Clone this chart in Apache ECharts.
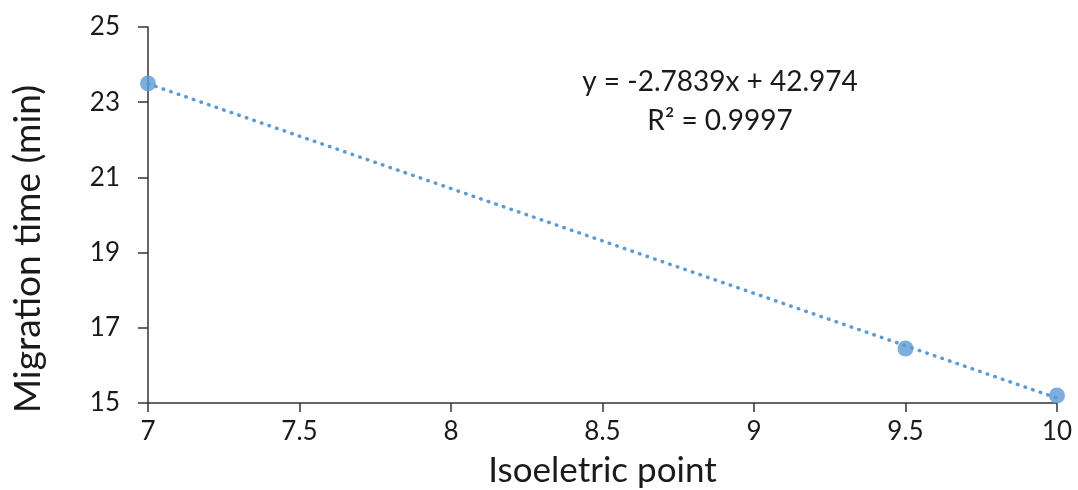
<!DOCTYPE html>
<html>
<head>
<meta charset="utf-8">
<script src="https://cdn.jsdelivr.net/npm/echarts@6/dist/echarts.min.js"></script>
<style>html,body{margin:0;padding:0;background:#fff}#c{width:1078px;height:490px}</style>
</head>
<body>
<div id="c"></div>
<script>
const isoPoints = [7, 9.5, 10];
const migrationTimes = [23.5, 16.45, 15.2];
const trendX = [7, 10];
const trendY = [23.49, 15.13];
const yTicks = [15, 17, 19, 21, 23, 25];
const equationText = 'y = -2.7839x + 42.974';
const r2Text = 'R² = 0.9997';
const xTitle = 'Isoeletric point';
const yTitle = 'Migration time (min)';

const FONT = 'Lato, "Open Sans", sans-serif';
const chart = echarts.init(document.getElementById('c'));
chart.setOption({
  animation: false,
  grid: {left: 148, right: 21, top: 27, bottom: 87, containLabel: false, outerBoundsMode: 'none'},
  xAxis: {
    type: 'value', min: 7, max: 10, interval: 0.5,
    name: xTitle, nameLocation: 'middle', nameGap: 50,
    nameTextStyle: {fontSize: 35, color: '#1a1a1a', fontFamily: FONT},
    axisLine: {show: true, lineStyle: {color: '#333', width: 1.5}},
    axisTick: {show: true, length: 9, lineStyle: {color: '#333', width: 1.5}},
    axisLabel: {fontSize: 26, color: '#1a1a1a', fontFamily: FONT, margin: 16},
    splitLine: {show: false}
  },
  yAxis: {
    type: 'value', min: 15, max: 25,
    axisLine: {show: true, lineStyle: {color: '#333', width: 1.5}},
    axisTick: {show: true, length: 10, customValues: yTicks, lineStyle: {color: '#333', width: 1.5}},
    axisLabel: {fontSize: 26, color: '#1a1a1a', fontFamily: FONT, margin: 28, customValues: yTicks},
    splitLine: {show: false}
  },
  series: [
    {
      type: 'line', data: trendX.map((x, i) => [x, trendY[i]]),
      showSymbol: false, symbol: 'none',
      lineStyle: {color: '#5B9BD5', width: 3.5, type: [0.5, 7.5], cap: 'round'},
      z: 1
    },
    {
      type: 'scatter', data: isoPoints.map((x, i) => [x, migrationTimes[i]]),
      symbolSize: 16, itemStyle: {color: '#5B9BD5'}, z: 3
    }
  ],
  graphic: [
    {type: 'text', x: 28, y: 249, rotation: Math.PI / 2,
     style: {text: yTitle, fontSize: 37, fill: '#1a1a1a', fontFamily: FONT, textAlign: 'center', textVerticalAlign: 'middle'}},
    {type: 'text', x: 720, y: 68, style: {text: equationText, fontSize: 28, fill: '#1a1a1a', fontFamily: FONT, textAlign: 'center'}},
    {type: 'text', x: 720, y: 107, style: {text: r2Text, fontSize: 28, fill: '#1a1a1a', fontFamily: FONT, textAlign: 'center'}}
  ]
});
</script>
</body>
</html>
